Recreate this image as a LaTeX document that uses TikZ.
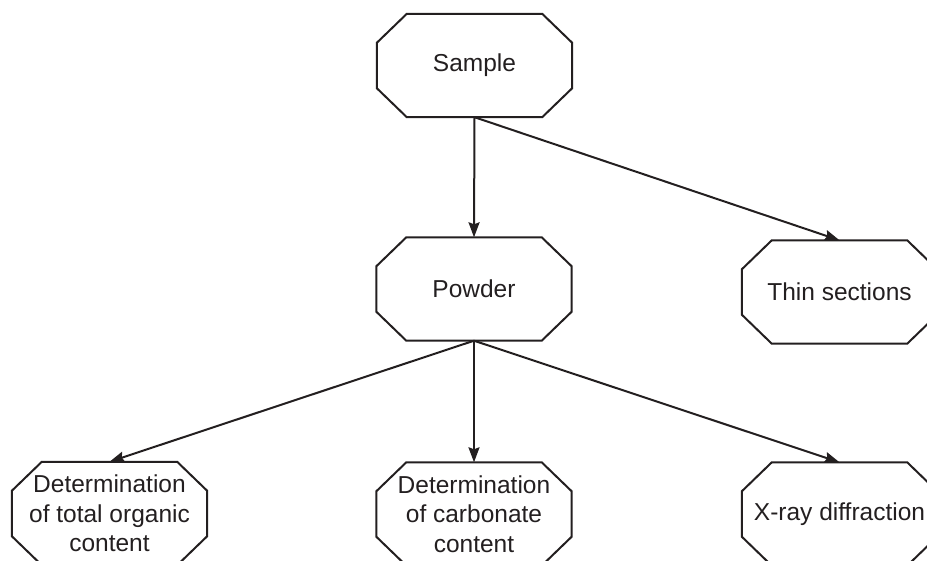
\documentclass[tikz,border=0pt]{standalone}
\usepackage{fontspec}
\setmainfont{Liberation Sans}
\usetikzlibrary{arrows.meta}
\definecolor{ink}{HTML}{231F20}
\begin{document}
\begin{tikzpicture}[x=1pt,y=-1pt,
  box/.style={shape=rectangle, minimum width=195pt, minimum height=103pt, inner sep=0pt,
    align=center, text=ink, font=\fontsize{24.5}{29.3}\selectfont},
  octline/.style={draw=ink, line width=2pt, line join=miter},
  arr/.style={draw=ink, line width=2pt, -{Stealth[length=15pt,width=11pt,inset=2pt]}}]
\useasboundingbox (0,0) rectangle (927,560);
\clip (0,0) rectangle (927,560);
\node[box] (sample) at (474.5,65.5) {Sample};
\node[box] (powder) at (474,289) {Powder};
\node[box] (thin) at (839.5,292) {Thin sections};
\node[box] (toc) at (109.5,513.5) {Determination\\of total organic\\content};
\node[box] (carb) at (474,514) {Determination\\of carbonate\\content};
\node[box] (xrd) at (839.5,514) {X-ray diffraction};
\foreach \n in {sample,powder,thin,toc,carb,xrd}
  \draw[octline] ([xshift=30pt]\n.north west) -- ([xshift=-30pt]\n.north east)
    -- ([yshift=-29pt]\n.north east) -- ([yshift=29pt]\n.south east)
    -- ([xshift=-30pt]\n.south east) -- ([xshift=30pt]\n.south west)
    -- ([yshift=29pt]\n.south west) -- ([yshift=-29pt]\n.north west) -- cycle;
\draw[arr] (sample.south) -- (powder.north);
\draw[arr] (sample.south) -- (thin.north);
\draw[arr] (powder.south) -- (toc.north);
\draw[arr] (powder.south) -- (carb.north);
\draw[arr] (powder.south) -- (xrd.north);
\end{tikzpicture}
\end{document}
